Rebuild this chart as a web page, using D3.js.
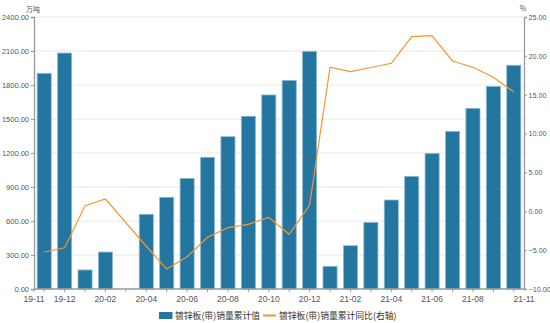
<!DOCTYPE html>
<html><head><meta charset="utf-8">
<script src="https://cdn.jsdelivr.net/npm/d3@7"></script>
<style>body{margin:0;background:#fff}svg{display:block;font-family:"Noto Sans CJK SC","Noto Sans",sans-serif}</style>
</head><body>
<script>
const categories = ["19-11","19-12","20-01","20-02","20-03","20-04","20-05","20-06","20-07","20-08","20-09","20-10","20-11","20-12","21-01","21-02","21-03","21-04","21-05","21-06","21-07","21-08","21-09","21-10"];
const salesCum = [1903,2082,168,326,null,659,809,976,1162,1344,1524,1712,1841,2097,200,382,588,785,994,1197,1391,1594,1788,1974];
const salesYoY = [-5.24,-4.69,0.72,1.58,null,-4.5,-7.43,-5.85,-3.35,-2.11,-1.68,-0.78,-2.96,0.81,18.53,17.96,18.5,19.04,22.47,22.59,19.34,18.53,17.24,15.35];
const leftTicks = [0,300,600,900,1200,1500,1800,2100,2400];
const rightTicks = [-10,-5,0,5,10,15,20,25];
const xLabels = ["19-12","20-02","20-04","20-06","20-08","20-10","20-12","21-02","21-04","21-06","21-08"];
const xStartLabel = "19-11", xEndLabel = "21-11";
const seriesNames = ["镀锌板(带)销量累计值","镀锌板(带)销量累计同比(右轴)"];
const unitLeft = "万吨", unitRight = "%";

const W = 550, H = 323;
const L = 34, R = 524, T = 17, B = 289;
const svg = d3.select("body").append("svg").attr("width", W).attr("height", H);

const x = d3.scaleBand().domain(categories).range([L, R]).paddingInner(0.31).paddingOuter(0.155);
const yL = d3.scaleLinear().domain([0, 2400]).range([B, T]);
const yR = d3.scaleLinear().domain([-10, 25]).range([B, T]);
const cx = c => x(c) + x.bandwidth() / 2;

// grid
svg.append("g").selectAll("line").data(leftTicks.slice(1)).join("line")
  .attr("x1", L).attr("x2", R).attr("y1", d => yL(d)).attr("y2", d => yL(d))
  .attr("stroke", "#e8e8e8").attr("stroke-width", 1);

// bars
svg.append("g").selectAll("rect").data(categories.map((c, i) => ({c, v: salesCum[i]})).filter(d => d.v != null)).join("rect")
  .attr("x", d => x(d.c)).attr("width", x.bandwidth())
  .attr("y", d => yL(d.v)).attr("height", d => B - yL(d.v))
  .attr("fill", "#22769f").attr("stroke", "#8dbad4").attr("stroke-width", 0.8);

// line
const pts = categories.map((c, i) => ({c, v: salesYoY[i]})).filter(d => d.v != null);
svg.append("path").datum(pts)
  .attr("d", d3.line().x(d => cx(d.c)).y(d => yR(d.v)))
  .attr("fill", "none").attr("stroke", "#f7962e").attr("stroke-width", 1.2);

// left axis
const gl = svg.append("g").attr("transform", `translate(${L},0)`)
  .call(d3.axisLeft(yL).tickValues(leftTicks).tickFormat(d3.format(".2f")).tickSize(3).tickPadding(2));
gl.select(".domain").attr("stroke", "#999").attr("stroke-width", 1.3);
gl.selectAll(".tick line").attr("stroke", "#999");
gl.selectAll("text").attr("fill", "#555").style("font-size", "7.5px").attr("font-family", "Liberation Sans, sans-serif");

// right axis
const gr = svg.append("g").attr("transform", `translate(${R},0)`)
  .call(d3.axisRight(yR).tickValues(rightTicks).tickFormat(d3.format(".2f")).tickSize(3).tickPadding(1.5));
gr.select(".domain").attr("stroke", "#999").attr("stroke-width", 1.3);
gr.selectAll(".tick line").attr("stroke", "#999");
gr.selectAll("text").attr("fill", "#555").style("font-size", "7.2px").attr("font-family", "Liberation Sans, sans-serif");

// bottom axis
const gb = svg.append("g").attr("transform", `translate(0,${B})`);
gb.append("line").attr("x1", L).attr("x2", R).attr("stroke", "#999").attr("stroke-width", 1.3);
gb.selectAll("line.t").data(categories).join("line").attr("class", "t")
  .attr("x1", d => cx(d)).attr("x2", d => cx(d)).attr("y1", 0).attr("y2", 3).attr("stroke", "#999");
gb.append("line").attr("x1", L).attr("x2", L).attr("y1", 0).attr("y2", 3).attr("stroke", "#999");
const lab = xLabels.map(c => ({t: c, x: cx(c)}));
lab.unshift({t: xStartLabel, x: L});
lab.push({t: xEndLabel, x: R});
gb.selectAll("text").data(lab).join("text")
  .attr("x", d => d.x).attr("y", 13).attr("text-anchor", "middle")
  .attr("fill", "#555").style("font-size", "8.5px").attr("font-family", "Liberation Sans, sans-serif").text(d => d.t);

// units
svg.append("text").attr("x", 33).attr("y", 12).attr("text-anchor", "middle").attr("fill", "#555").style("font-size", "7px").text(unitLeft);
svg.append("text").attr("x", 523).attr("y", 11).attr("text-anchor", "middle").attr("fill", "#555").style("font-size", "7px").text(unitRight);

// legend
const lg = svg.append("g");
lg.append("rect").attr("x", 159).attr("y", 312).attr("width", 13.5).attr("height", 7).attr("fill", "#22769f");
lg.append("text").attr("x", 175).attr("y", 319).attr("fill", "#333").style("font-size", "8.8px").text(seriesNames[0]);
lg.append("line").attr("x1", 263).attr("x2", 276).attr("y1", 315.5).attr("y2", 315.5).attr("stroke", "#f7962e").attr("stroke-width", 2);
lg.append("text").attr("x", 279).attr("y", 319).attr("fill", "#333").style("font-size", "8.8px").text(seriesNames[1]);
</script>
</body></html>
